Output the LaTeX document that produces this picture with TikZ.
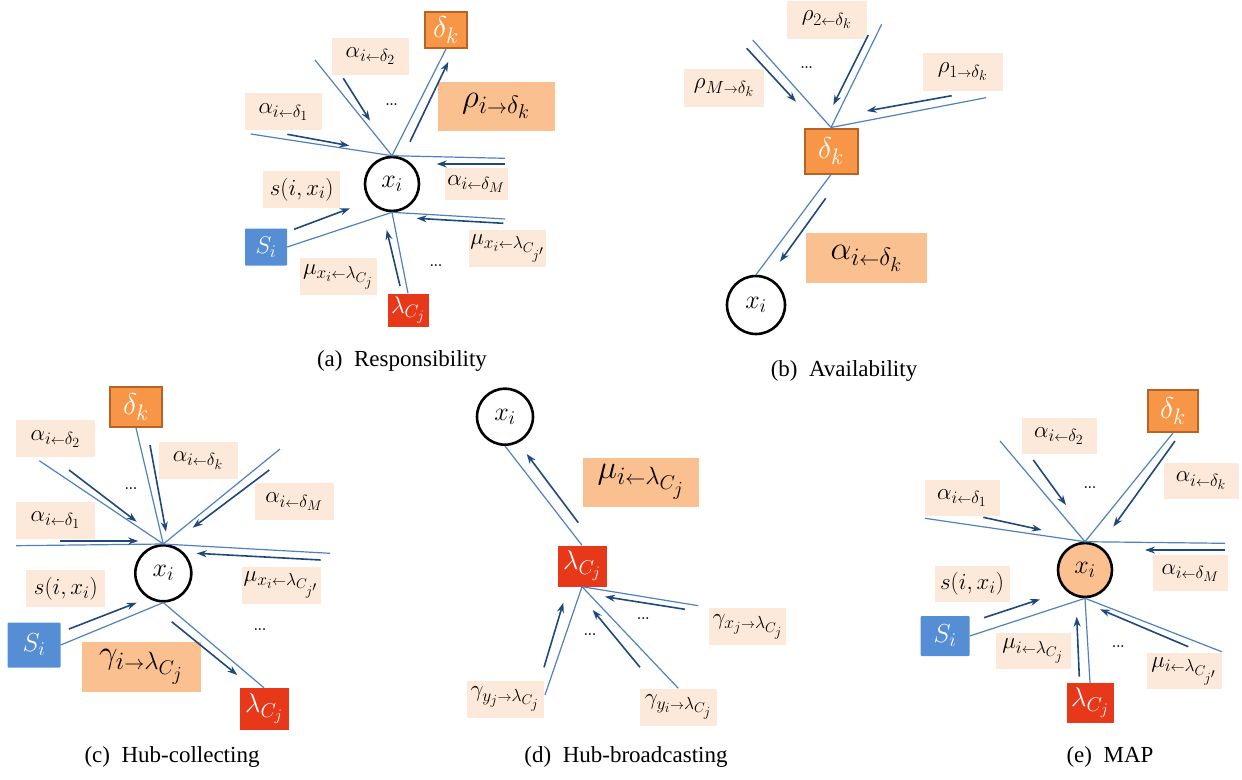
\RequirePackage{fix-cm}
\documentclass[tikz,border=0pt]{standalone}
\usepackage{amsmath}
\usepackage{amssymb}
\usepackage{fontspec}
\newfontfamily\capfont{Liberation Serif}
\usetikzlibrary{arrows.meta}

% larger sub/superscripts, as in the original drawing
\DeclareMathSizes{23}{23}{17.5}{14}
\DeclareMathSizes{24}{24}{18}{14.5}
\DeclareMathSizes{26}{26}{19.5}{15.5}
\DeclareMathSizes{27}{27}{20}{16}
\DeclareMathSizes{30}{30}{22.5}{18}
\DeclareMathSizes{33}{33}{25}{20}

\definecolor{edgeblue}{RGB}{79,129,189}
\definecolor{msgblue}{RGB}{31,73,125}
\definecolor{facfill}{RGB}{247,150,70}
\definecolor{facline}{RGB}{182,99,37}
\definecolor{simfill}{RGB}{85,142,213}
\definecolor{hubfill}{RGB}{232,56,26}
\definecolor{msgfill}{RGB}{253,233,217}
\definecolor{bigfill}{RGB}{250,192,144}

\newcommand{\la}{{\scriptscriptstyle\leftarrow}}
\newcommand{\ra}{{\scriptscriptstyle\rightarrow}}

\tikzset{
  edge/.style={draw=edgeblue, line width=1.2pt},
  msgarrow/.style={draw=msgblue, line width=1.6pt, -{Stealth[length=10pt,width=7pt]}},
  varnode/.style={circle, draw=black, line width=2.6pt, minimum size=54pt, inner sep=0pt, font=\fontsize{26}{26}\selectfont},
  facnode/.style={draw=facline, fill=facfill, line width=2pt, text=white, inner sep=0pt, font=\fontsize{30}{30}\selectfont},
  simnode/.style={fill=simfill, rounded corners=1pt, text=white, inner sep=0pt, font=\fontsize{24}{24}\selectfont},
  hubnode/.style={fill=hubfill, text=white, inner sep=0pt, font=\fontsize{24}{24}\selectfont},
  msgbox/.style={fill=msgfill, minimum width=77pt, minimum height=37pt, inner sep=0pt, font=\fontsize{23}{23}\selectfont},
  bigmsg/.style={fill=bigfill, minimum width=117pt, minimum height=49pt, inner sep=0pt, font=\fontsize{33}{33}\selectfont},
  dots/.style={font=\bfseries\fontsize{13}{13}\selectfont, inner sep=0pt},
  subcap/.style={font=\capfont\fontsize{23}{23}\selectfont}
}

\begin{document}
\begin{tikzpicture}[x=1pt,y=1pt,yscale=-1]
\useasboundingbox (0,0) rectangle (1242,779);

%%%%% (a) Responsibility
% message labels
\node[msgbox] (ma2) at (370.5,56) {$\alpha_{i\la\delta_2}$};
\node[msgbox] (ma1) at (283.4,111.7) {$\alpha_{i\la\delta_1}$};
\node[bigmsg] (mrho) at (496,106) {$\rho_{i\ra\delta_k}$};
\node[msgbox] (msa) at (301.7,189.5) {$s(i,x_i)$};
\node[msgbox, minimum width=63pt, minimum height=32pt] (maM) at (476,184) {$\alpha_{i\la\delta_M}$};
\node[msgbox] (mmuJ) at (507.7,248.3) {$\mu_{x_i\la\lambda_{C_{j'}}}$};
\node[msgbox] (mmu) at (338.3,276.7) {$\mu_{x_i\la\lambda_{C_j}}$};
% nodes
\node[varnode] (xa) at (392,184) {$x_i$};
\node[facnode, minimum width=42pt, minimum height=36pt] (da) at (446,30) {$\delta_k$};
\node[simnode, minimum width=42pt, minimum height=37pt] (sa) at (266,247) {$S_i$};
\node[hubnode, minimum width=41pt, minimum height=33pt] (la) at (408,310) {$\lambda_{C_j}$};
\coordinate (a1) at (250.7,134);
\coordinate (a2) at (315,60);
\coordinate (aM) at (505,158.3);
\coordinate (aJ) at (505,219);
% edges
\draw[edge] (xa.north) -- (a1);
\draw[edge] (xa.north) -- (a2);
\draw[edge] (xa.north) -- (da.south);
\draw[edge] (xa.north) -- (aM);
\draw[edge] (xa.south) -- (sa.east);
\draw[edge] (xa.south) -- (aJ);
\draw[edge] (xa.south) -- (la.north);
% messages
\draw[msgarrow] (343.3,78.3) -- (370,120.7);
\draw[msgarrow] (287.3,134.3) -- (349.3,145.7);
\draw[msgarrow] (410,141.7) -- (448.3,61.7);
\draw[msgarrow] (505,164) -- (436.7,164);
\draw[msgarrow] (294,229.3) -- (350,208.3);
\draw[msgarrow] (503.3,223.3) -- (416.7,218.3);
\draw[msgarrow] (400,286) -- (386.7,230);
\node[dots] (da1) at (391.7,105) {...};
\node[dots] (da2) at (436,265.7) {...};
\node[subcap] (capa) at (402,361) {(a)\ \ Responsibility};

%%%%% (b) Availability
\node[msgbox, minimum width=80pt, minimum height=38pt] (mr2) at (826.7,20) {$\rho_{2\la\delta_k}$};
\node[msgbox, minimum width=80pt, minimum height=38pt] (mrM) at (724,88) {$\rho_{M\ra\delta_k}$};
\node[msgbox, minimum width=80pt, minimum height=38pt] (mr1) at (962.7,72) {$\rho_{1\ra\delta_k}$};
\node[bigmsg, minimum width=121pt, minimum height=50pt] (malpha) at (866.3,258.3) {$\alpha_{i\la\delta_k}$};
\node[facnode, minimum width=53pt, minimum height=45pt] (db) at (831,151) {$\delta_k$};
\node[varnode, minimum size=58pt] (xb) at (756,305) {$x_i$};
\coordinate (bM) at (752.7,40);
\coordinate (b2) at (881.7,24.3);
\coordinate (b1) at (986,97.7);
\draw[edge] (db.north) -- (bM);
\draw[edge] (db.north) -- (b2);
\draw[edge] (db.north) -- (b1);
\draw[edge] (db.south) -- (xb.north);
\draw[msgarrow] (746.7,48.3) -- (796,101.7);
\draw[msgarrow] (868.3,35) -- (833.3,105);
\draw[msgarrow] (951.7,95.7) -- (866.7,111);
\draw[msgarrow] (825.7,198.3) -- (780,261.7);
\node[dots] (db1) at (806.7,67.7) {...};
\node[subcap] (capb) at (844,371) {(b)\ \ Availability};

%%%%% (c) Hub-collecting
\node[msgbox, minimum width=79pt] (mc2) at (55.5,438.7) {$\alpha_{i\la\delta_2}$};
\node[msgbox, minimum width=79pt] (mc1) at (55.5,520) {$\alpha_{i\la\delta_1}$};
\node[msgbox, minimum width=79pt] (mck) at (198,460.5) {$\alpha_{i\la\delta_k}$};
\node[msgbox, minimum width=79pt] (mcM) at (294,501.7) {$\alpha_{i\la\delta_M}$};
\node[msgbox, minimum width=79pt] (msc) at (65.8,588.7) {$s(i,x_i)$};
\node[msgbox, minimum width=79pt] (mcJ) at (281,585) {$\mu_{x_i\la\lambda_{C_{j'}}}$};
\node[bigmsg, minimum width=119pt, minimum height=50pt] (mgam) at (141.3,666.7) {$\gamma_{i\ra\lambda_{C_j}}$};
\node[varnode, minimum size=56pt] (xc) at (163.3,573.3) {$x_i$};
\node[facnode, minimum width=52pt, minimum height=40pt] (dc) at (136,407) {$\delta_k$};
\node[simnode, minimum width=53pt, minimum height=45pt, font=\fontsize{26}{26}\selectfont] (sc) at (34,645) {$S_i$};
\node[hubnode, minimum width=49pt, minimum height=42pt, font=\fontsize{27}{27}\selectfont] (lc) at (264,709) {$\lambda_{C_j}$};
\coordinate (c1) at (16,545.7);
\coordinate (c2) at (39.3,460.7);
\coordinate (cM) at (280,449);
\coordinate (cJ) at (330,553.3);
\draw[edge] (xc.north) -- (c1);
\draw[edge] (xc.north) -- (c2);
\draw[edge] (xc.north) -- (dc.south);
\draw[edge] (xc.north) -- (cM);
\draw[edge] (xc.north) -- (cJ);
\draw[edge] (xc.south) -- (sc.east);
\draw[edge] (xc.south) -- (lc.north);
\draw[msgarrow] (60,541) -- (138.3,541);
\draw[msgarrow] (69,470) -- (136.7,521.7);
\draw[msgarrow] (150,445) -- (166,531.7);
\draw[msgarrow] (269.3,470) -- (192.7,527.7);
\draw[msgarrow] (320.7,560) -- (196.7,553.3);
\draw[msgarrow] (69,629) -- (136.7,602.7);
\draw[msgarrow] (171.7,621.7) -- (237.3,675);
\node[dots] (dc1) at (131,489) {...};
\node[dots] (dc2) at (260,630) {...};
\node[subcap] (capc) at (172,757) {(c)\ \ Hub-collecting};

%%%%% (d) Hub-broadcasting
\node[bigmsg, minimum width=116pt] (mmud) at (641,482) {$\mu_{i\la\lambda_{C_j}}$};
\node[msgbox] (mgyj) at (505,699.3) {$\gamma_{y_j\ra\lambda_{C_j}}$};
\node[msgbox] (mgyi) at (678.3,707.3) {$\gamma_{y_i\ra\lambda_{C_j}}$};
\node[msgbox] (mgxj) at (747.7,626.7) {$\gamma_{x_j\ra\lambda_{C_j}}$};
\node[varnode, minimum size=56pt] (xd) at (505,416.7) {$x_i$};
\node[hubnode, minimum width=49pt, minimum height=41pt, font=\fontsize{27}{27}\selectfont] (ld) at (582,566) {$\lambda_{C_j}$};
\coordinate (dX) at (698.3,605.7);
\coordinate (dY) at (545,695);
\coordinate (dI) at (678.3,688.3);
\draw[edge] (ld.north) -- (xd.south);
\draw[edge] (ld.south) -- (dX);
\draw[edge] (ld.south) -- (dY);
\draw[edge] (ld.south) -- (dI);
\draw[msgarrow] (578.3,522.7) -- (526.7,454);
\draw[msgarrow] (685,609.3) -- (605,596.7);
\draw[msgarrow] (640,667.3) -- (592.7,610);
\draw[msgarrow] (544,667.3) -- (563.3,602.7);
\node[dots] (dd1) at (643.3,619) {...};
\node[dots] (dd2) at (590,635) {...};
\node[subcap] (capd) at (626,757) {(d)\ \ Hub-broadcasting};

%%%%% (e) MAP
\node[msgbox, minimum width=75pt, minimum height=36pt] (me2) at (1059,436) {$\alpha_{i\la\delta_2}$};
\node[msgbox, minimum width=75pt, minimum height=36pt] (me1) at (962,498) {$\alpha_{i\la\delta_1}$};
\node[msgbox, minimum width=75pt, minimum height=36pt] (mek) at (1201,481) {$\alpha_{i\la\delta_k}$};
\node[msgbox, minimum width=75pt, minimum height=36pt] (meM) at (1190.3,573) {$\alpha_{i\la\delta_M}$};
\node[msgbox, minimum width=75pt, minimum height=36pt] (mse) at (972,584) {$s(i,x_i)$};
\node[msgbox, minimum width=75pt, minimum height=36pt] (meJ) at (1033,651.3) {$\mu_{i\la\lambda_{C_j}}$};
\node[msgbox, minimum width=75pt, minimum height=36pt] (meJp) at (1184,671.3) {$\mu_{i\la\lambda_{C_{j'}}}$};
\node[varnode, fill=bigfill] (xe) at (1085,570) {$x_i$};
\node[facnode, minimum width=50pt, minimum height=42pt] (de) at (1173,411) {$\delta_k$};
\node[simnode, minimum width=49pt, minimum height=40pt, font=\fontsize{26}{26}\selectfont] (se) at (945,636) {$S_i$};
\node[hubnode, minimum width=47pt, minimum height=40pt, font=\fontsize{27}{27}\selectfont] (le) at (1090,703) {$\lambda_{C_j}$};
\coordinate (e1) at (925,518.3);
\coordinate (e2) at (1000,441);
\coordinate (eM) at (1225,543.3);
\coordinate (eJ) at (1221.7,651.7);
\draw[edge] (xe.north) -- (e1);
\draw[edge] (xe.north) -- (e2);
\draw[edge] (xe.north) -- (de.south);
\draw[edge] (xe.north) -- (eM);
\draw[edge] (xe.south) -- (se.east);
\draw[edge] (xe.south) -- (le.north);
\draw[edge] (xe.south) -- (eJ);
\draw[msgarrow] (1033.3,460) -- (1066,505);
\draw[msgarrow] (983.3,517.3) -- (1041.7,530);
\draw[msgarrow] (1175,441) -- (1113.3,526.7);
\draw[msgarrow] (1225,550) -- (1145,550);
\draw[msgarrow] (984,617.7) -- (1040,599.3);
\draw[msgarrow] (1079.3,676.7) -- (1076.7,616.7);
\draw[msgarrow] (1188.3,646.7) -- (1100,609.3);
\node[dots] (de1) at (1090,487.7) {...};
\node[dots] (de2) at (1118.3,646.7) {...};
\node[subcap] (cape) at (1110,757) {(e)\ \ MAP};

\end{tikzpicture}
\end{document}
